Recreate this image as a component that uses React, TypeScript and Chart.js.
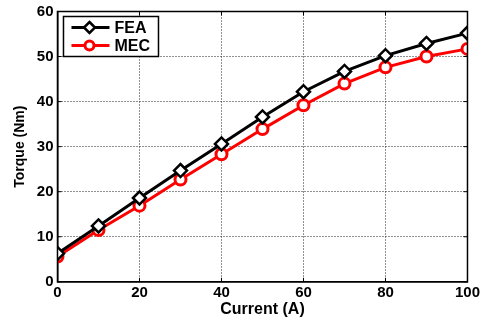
import React, { useEffect, useRef } from "react";
import { Chart, registerables } from "chart.js";

Chart.register(...registerables);

const currents = [0, 10, 20, 30, 40, 50, 60, 70, 80, 90, 100];
const feaTorque = [6.3, 12.4, 18.6, 24.7, 30.6, 36.6, 42.2, 46.7, 50.2, 52.9, 55.2];
const mecTorque = [5.6, 11.5, 16.9, 22.7, 28.3, 33.9, 39.2, 44.0, 47.6, 50.0, 51.7];
const seriesNames = ["FEA", "MEC"];
const xTitle = "Current (A)";
const yTitle = "Torque (Nm)";

const FONT = "'Liberation Sans', Arial, sans-serif";

const boxPlugin = {
  id: "boxAndLegend",
  afterDraw(chart: any) {
    const { ctx, chartArea } = chart;
    const { left, right, top, bottom } = chartArea;
    ctx.save();
    ctx.strokeStyle = "#000";
    ctx.lineWidth = 1.5;
    ctx.setLineDash([]);
    ctx.strokeRect(left, top, right - left, bottom - top);
    // inward ticks
    const xs = chart.scales.x;
    const ys = chart.scales.y;
    ctx.lineWidth = 1;
    xs.ticks.forEach((t: any) => {
      const px = xs.getPixelForValue(t.value);
      ctx.beginPath();
      ctx.moveTo(px, bottom);
      ctx.lineTo(px, bottom - 4);
      ctx.moveTo(px, top);
      ctx.lineTo(px, top + 4);
      ctx.stroke();
    });
    ys.ticks.forEach((t: any) => {
      const py = ys.getPixelForValue(t.value);
      ctx.beginPath();
      ctx.moveTo(left, py);
      ctx.lineTo(left + 4, py);
      ctx.moveTo(right, py);
      ctx.lineTo(right - 4, py);
      ctx.stroke();
    });
    // legend
    const lx = left + 6;
    const ly = top + 5;
    const lw = 95;
    const lh = 40;
    ctx.fillStyle = "#fff";
    ctx.fillRect(lx, ly, lw, lh);
    ctx.lineWidth = 1.5;
    ctx.strokeStyle = "#000";
    ctx.strokeRect(lx, ly, lw, lh);
    const ds = chart.data.datasets;
    ds.forEach((d: any, i: number) => {
      const yy = ly + 11 + i * 18;
      ctx.strokeStyle = d.borderColor;
      ctx.lineWidth = 3;
      ctx.beginPath();
      ctx.moveTo(lx + 8, yy);
      ctx.lineTo(lx + 46, yy);
      ctx.stroke();
      ctx.fillStyle = "#fff";
      ctx.lineWidth = d.pointBorderWidth;
      ctx.strokeStyle = d.borderColor;
      const cx = lx + 26;
      const r = 5.5;
      ctx.beginPath();
      if (d.pointStyle === "rectRot") {
        ctx.moveTo(cx, yy - r);
        ctx.lineTo(cx + r, yy);
        ctx.lineTo(cx, yy + r);
        ctx.lineTo(cx - r, yy);
        ctx.closePath();
      } else {
        ctx.arc(cx, yy, 4.5, 0, Math.PI * 2);
      }
      ctx.fill();
      ctx.stroke();
      ctx.fillStyle = "#000";
      ctx.font = `bold 16px ${FONT}`;
      ctx.textBaseline = "middle";
      ctx.textAlign = "left";
      ctx.fillText(d.label, lx + 51, yy + 1);
    });
    ctx.restore();
  },
};

export default function App() {
  const ref = useRef<HTMLCanvasElement>(null);
  useEffect(() => {
    document.body.style.margin = "0";
    const chart = new Chart(ref.current!, {
      type: "line",
      data: {
        datasets: [
          {
            label: seriesNames[0],
            data: currents.map((x, i) => ({ x, y: feaTorque[i] })),
            borderColor: "#000",
            backgroundColor: "#fff",
            borderWidth: 3,
            pointStyle: "rectRot",
            pointRadius: 6.5,
            pointBorderWidth: 2.5,
            pointBackgroundColor: "#fff",
            pointBorderColor: "#000",
          },
          {
            label: seriesNames[1],
            data: currents.map((x, i) => ({ x, y: mecTorque[i] })),
            borderColor: "#ff0000",
            backgroundColor: "#fff",
            borderWidth: 3,
            pointStyle: "circle",
            pointRadius: 5.5,
            pointBorderWidth: 3,
            pointBackgroundColor: "#fff",
            pointBorderColor: "#ff0000",
          },
        ],
      },
      options: {
        animation: false,
        responsive: false,
        maintainAspectRatio: false,
        layout: { padding: { top: 10, right: 2, left: 12, bottom: 1 } },
        plugins: { legend: { display: false }, tooltip: { enabled: false } },
        scales: {
          x: {
            type: "linear",
            min: 0,
            max: 100,
            ticks: { stepSize: 20, color: "#000", font: { family: FONT, size: 15, weight: "bold" }, padding: 2 },
            grid: { color: "#222", lineWidth: 1, drawTicks: false },
            border: { display: true, color: "#000", width: 1.5, dash: [1, 2] },
            title: { display: true, text: xTitle, color: "#000", font: { family: FONT, size: 16, weight: "bold" }, padding: { top: -4, bottom: 0 } },
          },
          y: {
            type: "linear",
            min: 0,
            max: 60,
            ticks: { stepSize: 10, color: "#000", font: { family: FONT, size: 15, weight: "bold", lineHeight: 1 }, padding: 4 },
            grid: { color: "#222", lineWidth: 1, drawTicks: false },
            border: { display: true, color: "#000", width: 1.5, dash: [1, 2] },
            title: { display: true, text: yTitle, color: "#000", font: { family: FONT, size: 14, weight: "bold" }, padding: { top: 0, bottom: 4 } },
          },
        },
      },
      plugins: [boxPlugin],
    } as any);
    return () => chart.destroy();
  }, []);
  return (
    <div style={{ width: 482, height: 320, background: "#fff" }}>
      <canvas ref={ref} width={482} height={320} style={{ width: 482, height: 320, display: "block" }} />
    </div>
  );
}
